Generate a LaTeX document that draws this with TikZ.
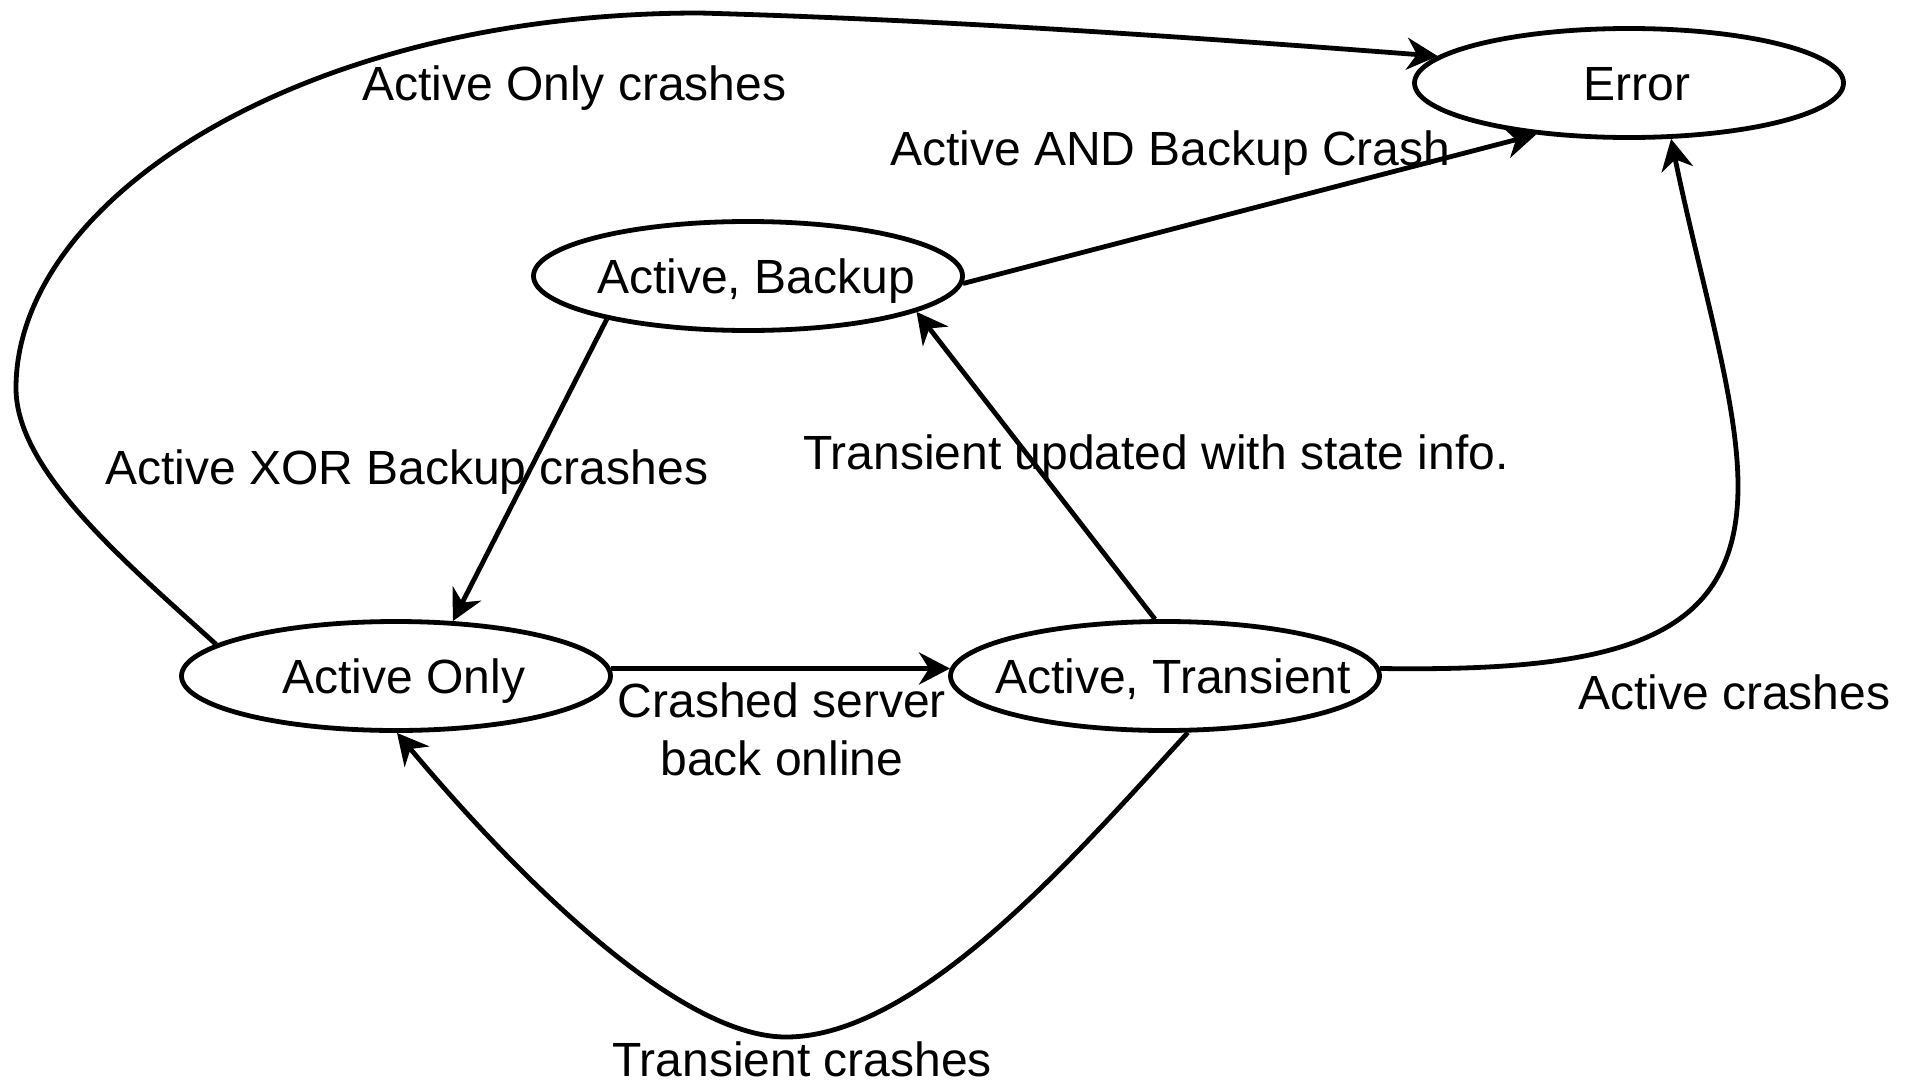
\documentclass[tikz,border=0pt]{standalone}
\usepackage{fontspec}
\setmainfont{Liberation Sans}
\usetikzlibrary{arrows.meta,shapes.geometric}
\begin{document}
\tikzset{
  state/.style={ellipse, draw, line width=4.8pt, minimum width=429pt, minimum height=109pt, inner sep=0pt},
  statelabel/.style={font=\fontsize{48}{58}\selectfont, text height=34pt, text depth=0pt, inner sep=0pt, xshift=8pt},
  edgelabel/.style={font=\fontsize{48}{58}\selectfont, inner sep=0pt},
  trans/.style={line width=4.8pt, -{Stealth[length=31pt,width=32pt,inset=10pt]}}
}
\begin{tikzpicture}[x=1pt,y=-1pt]
\fill[white] (0,0) rectangle (1908,1084);
\useasboundingbox (0,0) rectangle (1908,1084);

% states
\node[state] (err) at (1629,83) {};
\node[statelabel] at (err) {Error};
\node[state] (ab) at (748,276) {};
\node[statelabel] at (ab) {Active, Backup};
\node[state] (ao) at (396,676) {};
\node[statelabel] at (ao) {Active Only};
\node[state] (at) at (1165,676) {};
\node[statelabel] at (at) {Active, Transient};

% transitions
\draw[trans] (ao.170) .. controls (123,560) and (16,470) .. (16,388)
  .. controls (16,200) and (300,13) .. (700,13)
  .. controls (950,20) and (1200,38) .. (err.172);
\draw[trans] (ab.-2) -- (err.209);
\draw[trans] (ab.197) -- (ao.44);
\draw[trans] (ao.2) -- (at.178);
\draw[trans] (at.100) -- (ab.-12);
\draw[trans] (at.2) .. controls (1620,672) and (1738,640) .. (1738,486)
  .. controls (1738,400) and (1700,280) .. (err.-53);
\draw[trans] (at.-68) .. controls (1080,850) and (920,1037) .. (786,1037)
  .. controls (660,1037) and (470,820) .. (ao.-89);

% transition labels
\node[edgelabel, anchor=base west] (l1) at (362,100) {Active Only crashes};
\node[edgelabel, anchor=base west] (l2) at (890,165) {Active AND Backup Crash};
\node[edgelabel, anchor=base west] (l3) at (105,484) {Active XOR Backup crashes};
\node[edgelabel, anchor=base west] (l4) at (803,469) {Transient updated with state info.};
\node[edgelabel, align=center] (l5) at (782,729) {Crashed server\\back online};
\node[edgelabel, anchor=base west] (l6) at (1578,709) {Active crashes};
\node[edgelabel, anchor=base] (l7) at (802,1076) {Transient crashes};
\end{tikzpicture}
\end{document}
